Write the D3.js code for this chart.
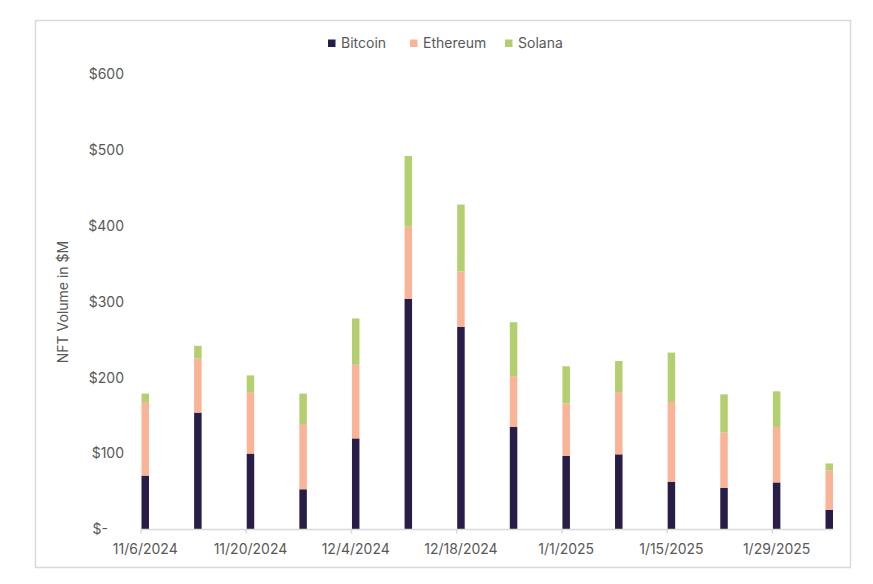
<!DOCTYPE html>
<html>
<head>
<meta charset="utf-8">
<script src="https://cdn.jsdelivr.net/npm/d3@7"></script>
<style>
  body { margin: 0; background: #fff; }
  text { font-family: Inter, "Noto Sans", sans-serif; fill: #595959; }
</style>
</head>
<body>
<div id="chart"></div>
<script>
// weekly NFT volume, $M
const weeks = ["2024-11-06", "2024-11-13", "2024-11-20", "2024-11-27", "2024-12-04", "2024-12-11", "2024-12-18",
               "2024-12-25", "2025-01-01", "2025-01-08", "2025-01-15", "2025-01-22", "2025-01-29", "2025-02-05"];
const bitcoin  = [71, 154, 100, 53, 120, 304, 267, 135, 97, 99, 63, 55, 62, 26];
const ethereum = [97, 71, 81, 86, 97, 95, 73, 67, 69, 82, 105, 73, 73, 52];
const solana   = [11, 17, 22, 40, 61, 93, 88, 71, 49, 41, 65, 50, 47, 9];
const seriesNames = ["Bitcoin", "Ethereum", "Solana"];
const colors = ["#271d47", "#f9b397", "#b4cf70"];
const yTicks = [0, 100, 200, 300, 400, 500, 600];

const width = 873, height = 584;
const parse = d3.timeParse("%Y-%m-%d");

const rows = weeks.map((w, i) => ({
  date: parse(w), Bitcoin: bitcoin[i], Ethereum: ethereum[i], Solana: solana[i]
}));

const svg = d3.select("#chart").append("svg")
  .attr("width", width)
  .attr("height", height);

// outer frame
svg.append("rect")
  .attr("x", 35.5).attr("y", 20.5)
  .attr("width", 815).attr("height", 547)
  .attr("fill", "none")
  .attr("stroke", "#d9d9d9")
  .attr("stroke-width", 1.5);

const barW = 7.5;
const x = d3.scaleTime()
  .domain([rows[0].date, rows[rows.length - 1].date])
  .range([141.5, 825.5]);
const y = d3.scaleLinear().domain([0, 600]).range([529.5, 74]);

const stack = d3.stack().keys(seriesNames);
const stacked = stack(rows);

svg.append("g")
  .selectAll("g")
  .data(stacked)
  .join("g")
  .attr("fill", (d, i) => colors[i])
  .selectAll("rect")
  .data(d => d)
  .join("rect")
  .attr("x", d => x(d.data.date))
  .attr("y", d => y(d[1]))
  .attr("width", barW)
  .attr("height", d => y(d[0]) - y(d[1]));

// x axis
const tickDates = rows.filter((d, i) => i % 2 === 0).map(d => d.date);
const xAxis = svg.append("g").attr("transform", `translate(0,${y(0)})`);
xAxis.append("line")
  .attr("x1", x(rows[0].date) - 1).attr("x2", x(rows[rows.length - 1].date) + barW)
  .attr("stroke", "#d9d9d9").attr("stroke-width", 1.5);
xAxis.selectAll(".tick")
  .data(tickDates)
  .join("line")
  .attr("x1", d => x(d) - 0.5).attr("x2", d => x(d) - 0.5)
  .attr("y1", 0).attr("y2", 4)
  .attr("stroke", "#d9d9d9").attr("stroke-width", 1.5);
xAxis.selectAll("text")
  .data(tickDates)
  .join("text")
  .attr("x", d => x(d) + barW / 2)
  .attr("y", 24)
  .attr("text-anchor", "middle")
  .style("font-size", "14px")
  .text(d => d3.timeFormat("%-m/%-d/%Y")(d));

// y axis labels (no line)
svg.append("g")
  .selectAll("text")
  .data(yTicks)
  .join("text")
  .attr("x", d => d === 0 ? 108 : 124)
  .attr("y", d => y(d))
  .attr("dy", "0.35em")
  .attr("text-anchor", "end")
  .style("font-size", "14px")
  .text(d => d === 0 ? "$-" : "$" + d);

svg.append("text")
  .attr("transform", `translate(68,302) rotate(-90)`)
  .attr("text-anchor", "middle")
  .style("font-size", "14px")
  .text("NFT Volume in $M");

// legend
const legendX = [328, 410, 505];
const legend = svg.append("g")
  .selectAll("g")
  .data(seriesNames)
  .join("g")
  .attr("transform", (d, i) => `translate(${legendX[i]},43)`);
legend.append("rect")
  .attr("x", 0).attr("y", -3.5)
  .attr("width", 7.5).attr("height", 7.5)
  .attr("fill", (d, i) => colors[i]);
legend.append("text")
  .attr("x", 13)
  .attr("dy", "0.35em")
  .style("font-size", "14px")
  .text(d => d);
</script>
</body>
</html>
